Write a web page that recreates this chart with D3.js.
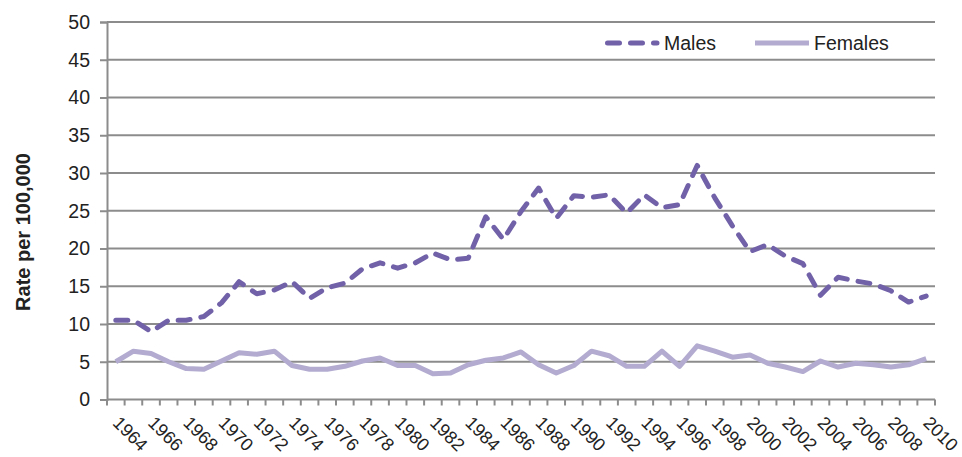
<!DOCTYPE html>
<html>
<head>
<meta charset="utf-8">
<script src="https://cdn.jsdelivr.net/npm/d3@7"></script>
<style>
  body { margin: 0; background: #fff; }
  svg text { font-family: "Liberation Sans", Arial, sans-serif; fill: #222; }
</style>
</head>
<body>
<script>
// rates per 100,000
var years = [1964, 1965, 1966, 1967, 1968, 1969, 1970, 1971, 1972, 1973,
             1974, 1975, 1976, 1977, 1978, 1979, 1980, 1981, 1982, 1983,
             1984, 1985, 1986, 1987, 1988, 1989, 1990, 1991, 1992, 1993,
             1994, 1995, 1996, 1997, 1998, 1999, 2000, 2001, 2002, 2003,
             2004, 2005, 2006, 2007, 2008, 2009, 2010]

var males = [10.5, 10.5, 9.0, 10.5, 10.5, 11.0, 12.8, 15.6, 14.0, 14.5,
             15.6, 13.4, 14.8, 15.4, 17.3, 18.1, 17.4, 18.1, 19.4, 18.5,
             18.7, 24.2, 21.2, 24.9, 28.0, 24.0, 27.0, 26.8, 27.1, 24.7,
             27.1, 25.4, 25.8, 31.0, 26.7, 23.0, 19.6, 20.5, 19.0, 18.0,
             13.8, 16.2, 15.7, 15.3, 14.4, 12.9, 13.7]

var females = [5.0, 6.4, 6.1, 5.0, 4.1, 4.0, 5.1, 6.2, 6.0, 6.4,
               4.5, 4.0, 4.0, 4.4, 5.1, 5.5, 4.5, 4.5, 3.4, 3.5,
               4.6, 5.2, 5.5, 6.3, 4.6, 3.5, 4.5, 6.4, 5.8, 4.4,
               4.4, 6.4, 4.4, 7.1, 6.4, 5.6, 5.9, 4.8, 4.3, 3.7,
               5.1, 4.3, 4.8, 4.6, 4.3, 4.6, 5.4]

var yTicks = [0, 5, 10, 15, 20, 25, 30, 35, 40, 45, 50]
var xLabels = years.filter(function(y) { return y % 2 === 0 })

var series = [
  { name: 'Males', values: males, color: '#7161a8', dash: '12,11' },
  { name: 'Females', values: females, color: '#b3acd0', dash: null }
]

var width = 962, height = 457
var plotLeft = 107, plotRight = 935, plotTop = 22, plotBottom = 399.5
var gridColor = '#8c8c8c'

var svg = d3.select('body').append('svg')
    .attr('width', width)
    .attr('height', height)

var x = d3.scaleBand()
    .domain(years)
    .range([plotLeft, plotRight])
    .padding(0)

var y = d3.scaleLinear()
    .domain([0, 50])
    .range([plotBottom, plotTop])

// horizontal gridlines
svg.append('g')
  .selectAll('line')
  .data(yTicks.filter(function(t) { return t > 0 }))
  .enter().append('line')
    .attr('x1', plotLeft)
    .attr('x2', plotRight)
    .attr('y1', function(d) { return y(d) })
    .attr('y2', function(d) { return y(d) })
    .attr('stroke', gridColor)
    .attr('stroke-width', 2)

// y axis
var yAxis = svg.append('g')
    .attr('transform', 'translate(' + plotLeft + ',0)')
    .call(d3.axisLeft(y).tickValues(yTicks).tickSize(7).tickPadding(10))
yAxis.select('.domain').attr('stroke', gridColor).attr('stroke-width', 2)
yAxis.selectAll('.tick line').attr('stroke', gridColor).attr('stroke-width', 2)
yAxis.selectAll('.tick text')
    .attr('font-size', 19.5)
    .attr('font-family', '"Liberation Sans", Arial, sans-serif')
    .attr('fill', '#222')

// x axis: ticks sit on category boundaries
var bounds = years.map(function(d) { return x(d) }).concat([plotRight])
var xAxis = svg.append('g')
xAxis.append('line')
    .attr('x1', plotLeft).attr('x2', plotRight)
    .attr('y1', plotBottom).attr('y2', plotBottom)
    .attr('stroke', gridColor).attr('stroke-width', 2)
xAxis.selectAll('line.tk')
  .data(bounds)
  .enter().append('line')
    .attr('class', 'tk')
    .attr('x1', function(d) { return d }).attr('x2', function(d) { return d })
    .attr('y1', plotBottom).attr('y2', plotBottom + 6)
    .attr('stroke', gridColor).attr('stroke-width', 2)

xAxis.selectAll('text')
  .data(xLabels)
  .enter().append('text')
    .attr('transform', function(d) {
      return 'translate(' + (x(d) + x.bandwidth() / 2 - 4) + ',' + 424 + ') rotate(45)'
    })
    .attr('text-anchor', 'start')
    .attr('font-size', 18)
    .text(function(d) { return d })

// y title
svg.append('text')
    .attr('transform', 'translate(23,232) rotate(-90)')
    .attr('text-anchor', 'middle')
    .attr('dominant-baseline', 'central')
    .attr('font-size', 20)
    .attr('font-weight', 'bold')
    .text('Rate per 100,000')

// lines
var line = d3.line()
    .x(function(d, i) { return x(years[i]) + x.bandwidth() / 2 })
    .y(function(d) { return y(d) })

series.slice().reverse().forEach(function(s) {
  svg.append('path')
      .datum(s.values)
      .attr('d', line)
      .attr('fill', 'none')
      .attr('stroke', s.color)
      .attr('stroke-width', 5)
      .attr('stroke-linejoin', 'round')
      .attr('stroke-linecap', s.dash ? 'round' : 'butt')
      .attr('stroke-dasharray', s.dash)
})

// legend
var legendPos = [{ x1: 607.5, x2: 657, tx: 664 }, { x1: 755, x2: 809, tx: 814 }]
var legendY = 43
series.forEach(function(s, i) {
  var p = legendPos[i]
  svg.append('line')
      .attr('x1', p.x1).attr('x2', p.x2)
      .attr('y1', legendY).attr('y2', legendY)
      .attr('stroke', s.color)
      .attr('stroke-width', 5)
      .attr('stroke-linecap', s.dash ? 'round' : 'butt')
      .attr('stroke-dasharray', s.dash)
  svg.append('text')
      .attr('x', p.tx)
      .attr('y', legendY)
      .attr('dominant-baseline', 'central')
      .attr('font-size', 19.5)
      .text(s.name)
})
</script>
</body>
</html>
